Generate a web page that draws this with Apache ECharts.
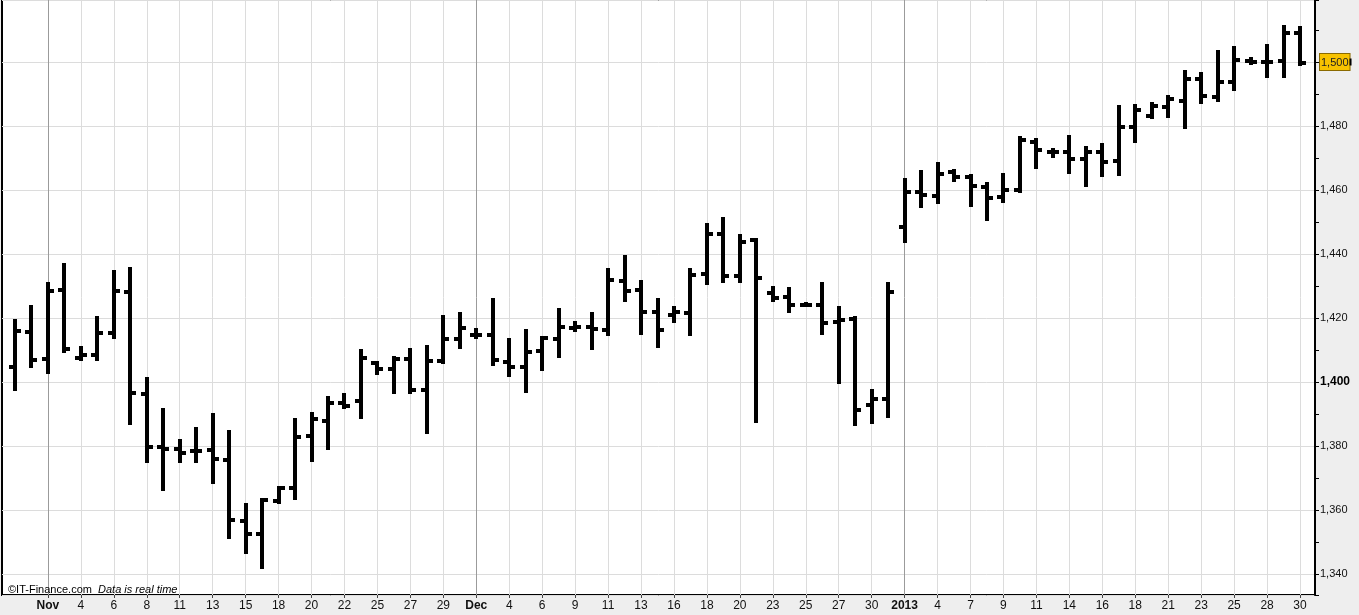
<!DOCTYPE html>
<html>
<head>
<meta charset="utf-8">
<script src="https://cdn.jsdelivr.net/npm/echarts@6/dist/echarts.min.js"></script>
<style>
html,body{margin:0;padding:0;background:#eeeeee;}
#chart{width:1359px;height:615px;}
</style>
</head>
<body>
<div id="chart"></div>
<script>
// ---- DATA ----
const dates = [
  'Oct 30','Oct 31',
  'Nov 1','Nov 2','Nov 4','Nov 5','Nov 6','Nov 7','Nov 8','Nov 9','Nov 11','Nov 12','Nov 13','Nov 14','Nov 15','Nov 16',
  'Nov 18','Nov 19','Nov 20','Nov 21','Nov 22','Nov 23','Nov 25','Nov 26','Nov 27','Nov 28','Nov 29','Nov 30',
  'Dec 2','Dec 3','Dec 4','Dec 5','Dec 6','Dec 7','Dec 9','Dec 10','Dec 11','Dec 12','Dec 13','Dec 14',
  'Dec 16','Dec 17','Dec 18','Dec 19','Dec 20','Dec 21','Dec 23','Dec 24','Dec 25','Dec 26','Dec 27','Dec 28','Dec 30','Dec 31',
  'Jan 2','Jan 3','Jan 4','Jan 6','Jan 7','Jan 8','Jan 9','Jan 10','Jan 11','Jan 13','Jan 14','Jan 15','Jan 16','Jan 17','Jan 18',
  'Jan 20','Jan 21','Jan 22','Jan 23','Jan 24','Jan 25','Jan 27','Jan 28','Jan 29','Jan 30'
];

// labels shown on every second session, starting at Nov 1
const tickLabels = [
  'Nov','4','6','8','11','13','15','18','20','22','25','27','29',
  'Dec','4','6','9','11','13','16','18','20','23','25','27','30',
  '2013','4','7','9','11','14','16','18','21','23','25','28','30'
];

const openV = [
  1404.6,1415.7,1407.2,1428.8,1407.6,1408.4,1415.4,1428.2,1396.3,1379.6,
  1379.1,1378.4,1378.8,1375.6,1356.7,1352.4,1362.9,1366.8,1383.1,1387.8,
  1393.5,1394.2,1405.8,1404.0,1407.1,1397.5,1406.7,1413.3,1414.6,1414.7,
  1406.4,1404.6,1409.7,1413.3,1417.0,1417.1,1416.3,1431.7,1428.8,1422.0,
  1420.9,1421.5,1433.8,1446.3,1433.1,1444.4,1427.7,1426.7,1424.2,1424.0,
  1418.9,1419.6,1392.8,1394.6,1448.3,1459.5,1458.1,1465.7,1464.0,1461.0,
  1457.7,1460.0,1475.1,1472.0,1472.0,1469.6,1472.0,1469.1,1479.6,1483.2,
  1486.0,1487.8,1494.6,1489.2,1493.6,1500.4,1500.1,1500.3,1509.0
];
const highV = [
  1419.4,1423.8,1430.8,1436.9,1410.8,1420.2,1434.7,1435.5,1401.1,1391.5,
  1381.9,1385.5,1390.0,1384.7,1361.8,1363.4,1367.3,1388.3,1390.2,1395.2,
  1396.3,1410.0,1406.4,1407.7,1410.2,1411.3,1420.6,1421.5,1416.5,1425.8,
  1413.3,1416.3,1414.2,1422.7,1418.9,1421.7,1435.2,1439.4,1431.7,1425.8,
  1423.3,1435.2,1449.4,1451.1,1445.9,1444.6,1429.8,1429.3,1424.6,1430.8,
  1423.5,1420.2,1397.5,1430.8,1463.3,1465.9,1468.3,1466.3,1464.7,1462.3,
  1465.0,1476.7,1475.8,1472.7,1476.9,1473.3,1474.4,1486.1,1486.6,1487.1,
  1489.3,1497.3,1496.7,1503.4,1504.6,1501.1,1505.3,1511.3,1511.0
];
const lowV = [
  1397.5,1404.6,1402.9,1409.3,1406.9,1406.9,1413.6,1386.8,1375.1,1366.3,
  1375.1,1375.1,1368.3,1351.2,1346.7,1341.8,1362.1,1363.3,1375.4,1379.0,
  1391.8,1388.6,1402.4,1396.5,1396.5,1384.2,1406.0,1410.7,1413.6,1405.3,
  1401.9,1397.0,1403.8,1407.9,1416.0,1410.2,1414.7,1425.4,1414.9,1410.8,
  1418.9,1414.7,1430.6,1431.4,1431.1,1387.6,1425.4,1421.8,1423.7,1415.0,
  1399.8,1386.6,1387.3,1389.0,1443.9,1454.6,1455.8,1462.9,1455.1,1450.6,
  1456.4,1459.5,1466.8,1470.4,1465.2,1461.3,1464.4,1464.7,1474.9,1482.4,
  1482.7,1479.3,1487.1,1487.8,1491.3,1499.4,1495.4,1495.2,1499.1
];
const closeV = [
  1415.9,1406.9,1428.4,1410.3,1408.5,1415.4,1428.4,1396.5,1379.6,1379.0,
  1377.9,1378.5,1375.8,1356.9,1352.4,1363.1,1366.8,1382.9,1388.3,1393.3,
  1392.6,1407.4,1404.0,1407.1,1397.5,1406.7,1413.3,1417.0,1414.8,1406.9,
  1404.6,1409.5,1413.6,1417.3,1417.3,1416.5,1431.9,1428.5,1422.0,1416.3,
  1422.0,1433.4,1446.3,1433.1,1443.9,1432.4,1426.2,1424.0,1424.2,1418.5,
  1419.4,1391.3,1394.6,1428.2,1459.5,1458.4,1465.0,1464.0,1461.3,1457.6,
  1460.0,1475.6,1472.5,1472.0,1469.6,1472.0,1468.7,1479.8,1485.0,1486.1,
  1488.3,1494.6,1489.4,1493.9,1500.6,1499.9,1500.1,1509.2,1499.8
];

// ---- helpers ----
function labelAt(i) {
  if (i < 2 || (i - 2) % 2 !== 0) return '';
  return tickLabels[(i - 2) / 2] || '';
}
function isLabeled(i) { return labelAt(i) !== ''; }
function isPeriodLabel(t) { return /^[A-Za-z]+$/.test(t) || /^\d{4}$/.test(t); }
const vSplitColors = tickLabels.map(t => isPeriodLabel(t) ? '#9b9b9b' : '#dcdcdc');

const ohlc = dates.map((d, i) => [d, openV[i], highV[i], lowV[i], closeV[i]]);
const lastPrice = Math.round(closeV[closeV.length - 1]);

const Y_MIN = 1333.44, Y_MAX = 1519.375;
const FONT = 'Arial, "Liberation Sans", sans-serif';

function fmt(v) { return Math.round(v).toLocaleString('en-US'); }

function renderItem(params, api) {
  const i = api.value(0);
  const o = api.coord([i, api.value(1)]);
  const h = api.coord([i, api.value(2)]);
  const l = api.coord([i, api.value(3)]);
  const c = api.coord([i, api.value(4)]);
  const x = Math.round(o[0]);
  const bw = 4, tl = 4, th = 4;
  const style = { fill: '#000' };
  const top = Math.round(h[1]) - 1;
  const height = Math.max(Math.round(l[1]) - top + 1, th);
  return {
    type: 'group',
    children: [
      { type: 'rect', shape: { x: x - bw / 2, y: top, width: bw, height: height }, style },
      { type: 'rect', shape: { x: x - bw / 2 - tl, y: Math.round(o[1] - th / 2), width: tl, height: th }, style },
      { type: 'rect', shape: { x: x + bw / 2, y: Math.round(c[1] - th / 2), width: tl, height: th }, style }
    ]
  };
}

const yLabel = {
  showMinLabel: false, showMaxLabel: false, margin: 5,
  fontSize: 11, color: '#111', fontFamily: FONT,
  formatter: v => {
    const r = Math.round(v);
    const s = fmt(v);
    if (r === lastPrice) return '{hl|' + s + '}{n| }';
    if (r === 1400) return '{b|' + s + '}';
    return s;
  },
  rich: {
    hl: { backgroundColor: '#f7c200', borderColor: '#8a6a00', borderWidth: 1, padding: [3, 1, 2, 1], color: '#222', fontSize: 11, fontFamily: FONT, verticalAlign: 'middle' },
    n: { backgroundColor: '#000', width: 2, height: 7, fontSize: 7, verticalAlign: 'middle' },
    b: { fontWeight: 'bold', fontSize: 12, color: '#000', fontFamily: FONT }
  }
};

const chart = echarts.init(document.getElementById('chart'), null, { renderer: 'canvas' });
chart.setOption({
  animation: false,
  backgroundColor: 'transparent',
  title: {
    text: '©IT-Finance.com  {i|Data is real time}',
    left: 3, top: 579,
    textStyle: {
      fontSize: 11, fontWeight: 'normal', color: '#000', fontFamily: FONT,
      rich: { i: { fontStyle: 'italic', fontSize: 11, color: '#000', fontFamily: FONT } }
    }
  },
  grid: [
    { left: 2, top: 0, width: 1313, height: 595, show: true, backgroundColor: '#ffffff', borderColor: '#000', borderWidth: 2 },
    { left: 15, top: 0, width: 1285, height: 595, show: false }
  ],
  xAxis: [
    {
      gridIndex: 1, type: 'category', data: dates, boundaryGap: false,
      axisLine: { show: false },
      axisTick: { show: true, interval: isLabeled, length: 3, lineStyle: { color: '#444' } },
      axisLabel: {
        interval: isLabeled, margin: 5, fontSize: 12, color: '#111', fontFamily: FONT,
        formatter: (v, i) => {
          const t = labelAt(i);
          return isPeriodLabel(t) ? '{b|' + t + '}' : t;
        },
        rich: { b: { fontWeight: 'bold', fontSize: 12, color: '#111', fontFamily: FONT } }
      },
      splitLine: { show: true, interval: isLabeled, lineStyle: { color: vSplitColors, width: 1 } }
    },
    {
      gridIndex: 0, type: 'category', data: dates, boundaryGap: false,
      axisLine: { show: false }, axisTick: { show: false }, axisLabel: { show: false },
      splitLine: { show: false }
    }
  ],
  yAxis: [
    {
      gridIndex: 0, type: 'value', position: 'right',
      min: Y_MIN, max: Y_MAX, splitNumber: 9, minInterval: 20, maxInterval: 20,
      axisLine: { show: false }, axisTick: { show: false }, minorTick: { show: false },
      axisLabel: { show: false },
      splitLine: { show: true, lineStyle: { color: '#dcdcdc', width: 1 } }
    },
    {
      gridIndex: 1, type: 'value', position: 'right', offset: 15,
      min: Y_MIN, max: Y_MAX, splitNumber: 9, minInterval: 20, maxInterval: 20,
      axisLine: { show: true, lineStyle: { color: '#000', width: 2 } },
      axisTick: { show: true, length: 4, lineStyle: { color: '#000' } },
      minorTick: { show: true, splitNumber: 2, length: 4, lineStyle: { color: '#000' } },
      axisLabel: yLabel,
      splitLine: { show: false }
    }
  ],
  series: [{
    type: 'custom',
    xAxisIndex: 0, yAxisIndex: 1,
    renderItem: renderItem,
    encode: { x: 0, y: [1, 2, 3, 4] },
    data: ohlc,
    clip: false
  }]
});
</script>
</body>
</html>
